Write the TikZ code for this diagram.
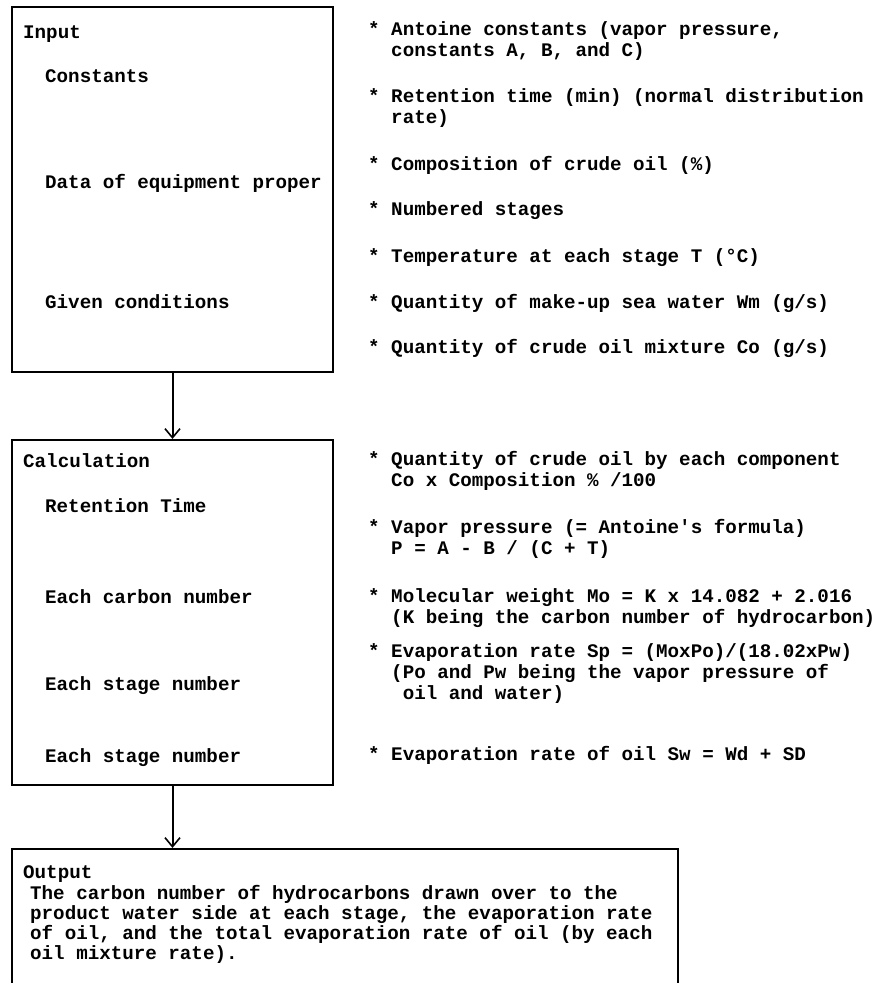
\documentclass[tikz,border=0pt]{standalone}
\usepackage{fontspec}
\newfontfamily\twfont{Liberation Mono}
\usetikzlibrary{arrows.meta}
\begin{document}
\begin{tikzpicture}[x=1pt,y=-1pt,
  txt/.style={anchor=base west,inner sep=0pt,align=left,font=\twfont\bfseries\fontsize{19.2}{21}\selectfont},
  otxt/.style={anchor=base west,inner sep=0pt,align=left,font=\twfont\bfseries\fontsize{19.2}{19.7}\selectfont},
  box/.style={draw,line width=2.2pt,inner sep=0pt},
  flow/.style={line width=2pt,-{Straight Barb[length=9pt,width=15pt,line width=1.6pt]}}]
\useasboundingbox (0,0) rectangle (875,983);
\clip (0,0) rectangle (875,983);
\fill[white] (0,0) rectangle (875,983);
% boxes
\node[box,minimum width=321pt,minimum height=365pt] (input) at (172.5,189.5) {};
\node[box,minimum width=321pt,minimum height=345pt] (calc) at (172.5,612.5) {};
\node[box,minimum width=666pt,minimum height=152pt] (output) at (345,925) {};
\draw[flow] (input.south) -- (calc.north);
\draw[flow] (calc.south) -- (calc.south |- output.north);
% input box texts
\node[txt] (tIn) at (23,38) {Input};
\node[txt] (tCon) at (45,82) {Constants};
\node[txt] (tDat) at (45,188) {Data of equipment proper};
\node[txt] (tGiv) at (45,308) {Given conditions};
% input right items (base anchor = last line)
\node[txt] (r1) at (368,56) {* Antoine constants (vapor pressure,\\\ \ constants A, B, and C)};
\node[txt] (r2) at (368,123) {* Retention time (min) (normal distribution\\\ \ rate)};
\node[txt] (r3) at (368,170) {* Composition of crude oil (\%)};
\node[txt] (r4) at (368,215) {* Numbered stages};
\node[txt] (r5) at (368,262) {* Temperature at each stage T (°C)};
\node[txt] (r6) at (368,308) {* Quantity of make-up sea water Wm (g/s)};
\node[txt] (r7) at (368,353) {* Quantity of crude oil mixture Co (g/s)};
% calculation box texts
\node[txt] (tCal) at (23,467) {Calculation};
\node[txt] (tRet) at (45,512) {Retention Time};
\node[txt] (tCar) at (45,603) {Each carbon number};
\node[txt] (tSt1) at (45,690) {Each stage number};
\node[txt] (tSt2) at (45,762) {Each stage number};
% calculation right items
\node[txt] (c1) at (368,486) {* Quantity of crude oil by each component\\\ \ Co x Composition \% /100};
\node[txt] (c2) at (368,554) {* Vapor pressure (= Antoine's formula)\\\ \ P = A - B / (C + T)};
\node[txt] (c3) at (368,623) {* Molecular weight Mo = K x 14.082 + 2.016\\\ \ (K being the carbon number of hydrocarbon)};
\node[txt] (c4) at (368,699) {* Evaporation rate Sp = (MoxPo)/(18.02xPw)\\\ \ (Po and Pw being the vapor pressure of\\\ \ \ oil and water)};
\node[txt] (c5) at (368,760) {* Evaporation rate of oil Sw = Wd + SD};
% output
\node[otxt] (tOut) at (23,878) {Output};
\node[otxt] (tOutB) at (30,959) {The carbon number of hydrocarbons drawn over to the\\product water side at each stage, the evaporation rate\\of oil, and the total evaporation rate of oil (by each\\oil mixture rate).};
\end{tikzpicture}
\end{document}
